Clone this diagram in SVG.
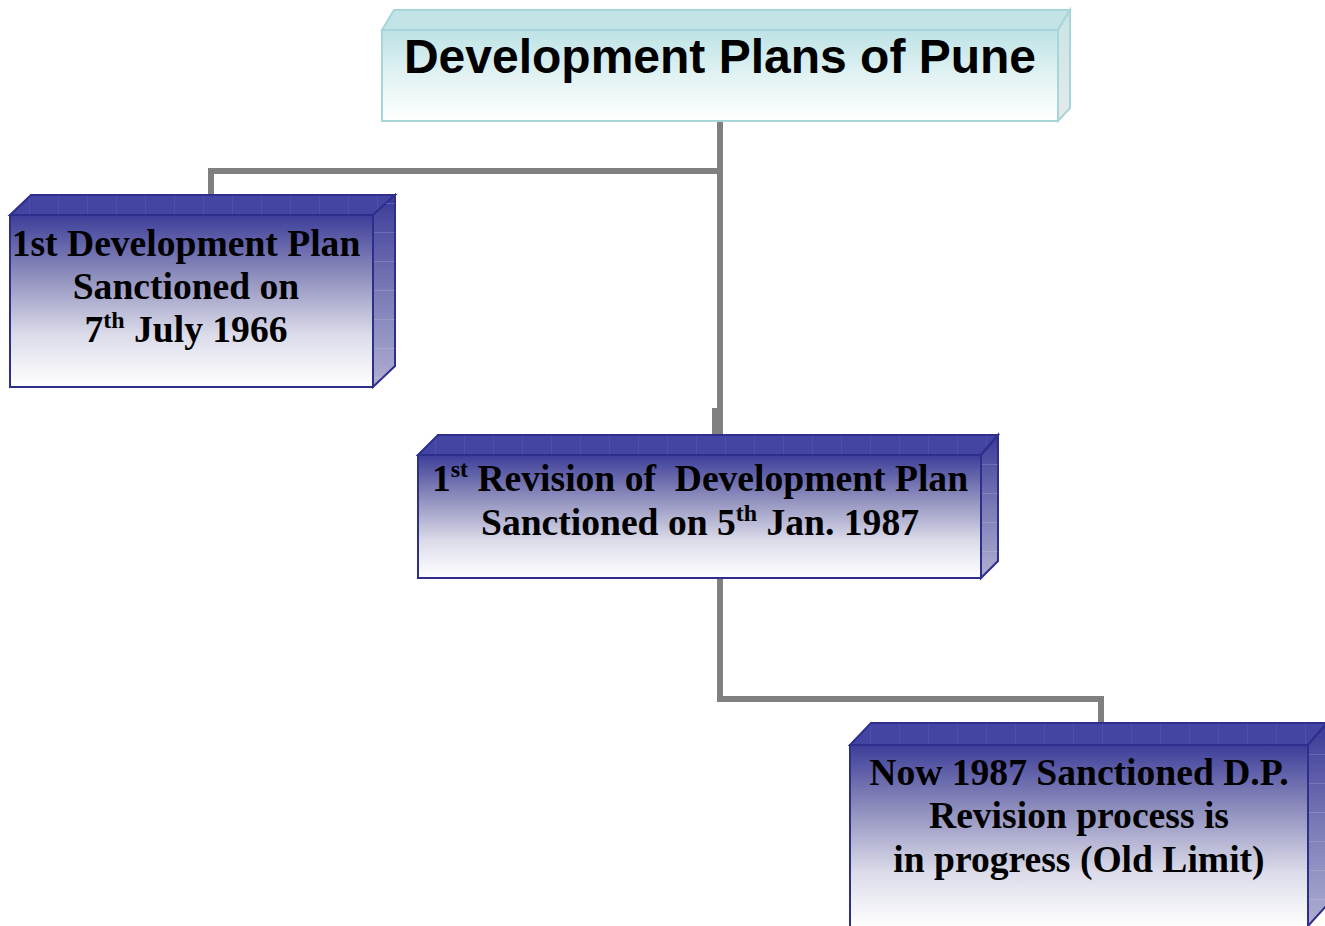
<svg xmlns="http://www.w3.org/2000/svg" width="1325" height="926" viewBox="0 0 1325 926">
  <defs>
    <!-- front face shading -->
    <linearGradient id="frontBlue" x1="0" y1="0" x2="0" y2="1">
      <stop offset="0" stop-color="#3d3d9a"/>
      <stop offset="0.35" stop-color="#8e8ebd"/>
      <stop offset="0.7" stop-color="#dcdcea"/>
      <stop offset="1" stop-color="#ffffff"/>
    </linearGradient>
    <linearGradient id="sideBlue" x1="0" y1="0" x2="0" y2="1">
      <stop offset="0" stop-color="#3a3a98"/>
      <stop offset="0.5" stop-color="#7a7ab6"/>
      <stop offset="1" stop-color="#afafd2"/>
    </linearGradient>
    <linearGradient id="frontTeal" x1="0" y1="0" x2="0" y2="1">
      <stop offset="0" stop-color="#bde2e5"/>
      <stop offset="0.5" stop-color="#e2f2f3"/>
      <stop offset="1" stop-color="#ffffff"/>
    </linearGradient>
    <linearGradient id="sideTeal" x1="0" y1="0" x2="0" y2="1">
      <stop offset="0" stop-color="#c9e3e5"/>
      <stop offset="1" stop-color="#e6eaea"/>
    </linearGradient>
    <!-- faint tile grid on the bevel faces -->
    <pattern id="gridV" width="29" height="40" patternUnits="userSpaceOnUse">
      <line x1="0.5" y1="0" x2="0.5" y2="40" stroke="#ffffff" stroke-opacity="0.06" stroke-width="1"/>
    </pattern>
    <pattern id="gridH" width="40" height="29" patternUnits="userSpaceOnUse">
      <line x1="0" y1="0.5" x2="40" y2="0.5" stroke="#ffffff" stroke-opacity="0.15" stroke-width="1"/>
    </pattern>
  </defs>
  <style>
    .edgeBlue { stroke: #2e2e8c; stroke-width: 2; stroke-linejoin: miter; }
    .edgeTeal { stroke: #a6d6da; stroke-width: 2; }
    .topBlue { fill: #4444a2; }
    .topTeal { fill: #c2e4e7; }
    .conn { fill: none; stroke: #808080; stroke-width: 6; stroke-linejoin: miter; stroke-linecap: butt; }
    .lbl { font-family: "Liberation Serif", "Times New Roman", serif; font-weight: bold; font-size: 37.6px; fill: #000; text-anchor: middle; white-space: pre; }
    .title { font-family: "Liberation Sans", Arial, sans-serif; font-weight: bold; font-size: 48px; fill: #000; text-anchor: middle; }
  </style>

  <rect width="1325" height="926" fill="#ffffff"/>

  <!-- connectors -->
  <g id="connectors">
    <path class="conn" d="M720 121 V435"/>
    <path class="conn" d="M720 171 H211 V196"/>
    <path class="conn" d="M715 408 V435"/>
    <path class="conn" d="M720 579 V699 H1101 V724"/>
  </g>

  <!-- root -->
  <g id="node-root">
    <polygon class="topTeal edgeTeal" points="382,30 394,10 1070,10 1058,30"/>
    <polygon fill="url(#sideTeal)" class="edgeTeal" points="1058,30 1070,10 1070,108 1058,121"/>
    <rect x="382" y="30" width="676" height="91" fill="url(#frontTeal)" class="edgeTeal"/>
    <text class="title" x="720" y="73">Development Plans of Pune</text>
  </g>

  <!-- first plan -->
  <g id="node-1966">
    <polygon class="topBlue edgeBlue" points="10,215 31,195 395,195 373,215"/>
    <polygon fill="url(#gridV)" points="10,215 31,195 395,195 373,215"/>
    <polygon fill="url(#sideBlue)" class="edgeBlue" points="373,215 395,195 395,366 373,387"/>
    <polygon fill="url(#gridH)" points="373,215 395,195 395,366 373,387"/>
    <rect x="10" y="215" width="363" height="172" fill="url(#frontBlue)" class="edgeBlue"/>
    <text class="lbl" x="186" y="256">1st Development Plan</text>
    <text class="lbl" x="186" y="299">Sanctioned on</text>
    <text class="lbl" x="186" y="342">7<tspan font-size="24" dy="-14">th</tspan><tspan dy="14"> July 1966</tspan></text>
  </g>

  <!-- first revision -->
  <g id="node-1987">
    <polygon class="topBlue edgeBlue" points="418,455 438,435 998,435 981,455"/>
    <polygon fill="url(#gridV)" points="418,455 438,435 998,435 981,455"/>
    <polygon fill="url(#sideBlue)" class="edgeBlue" points="981,455 998,435 998,561 981,578"/>
    <polygon fill="url(#gridH)" points="981,455 998,435 998,561 981,578"/>
    <rect x="418" y="455" width="563" height="123" fill="url(#frontBlue)" class="edgeBlue"/>
    <text class="lbl" x="700" y="491">1<tspan font-size="24" dy="-14">st</tspan><tspan dy="14"> Revision of  Development Plan</tspan></text>
    <text class="lbl" x="700" y="535">Sanctioned on 5<tspan font-size="24" dy="-14">th</tspan><tspan dy="14"> Jan. 1987</tspan></text>
  </g>

  <!-- current revision -->
  <g id="node-current">
    <polygon class="topBlue edgeBlue" points="850,745 871,723 1327,723 1308,745"/>
    <polygon fill="url(#gridV)" points="850,745 871,723 1327,723 1308,745"/>
    <polygon fill="url(#sideBlue)" class="edgeBlue" points="1308,745 1327,723 1327,905 1308,926"/>
    <polygon fill="url(#gridH)" points="1308,745 1327,723 1327,905 1308,926"/>
    <rect x="850" y="745" width="458" height="183" fill="url(#frontBlue)" class="edgeBlue"/>
    <text class="lbl" x="1079" y="785">Now 1987 Sanctioned D.P.</text>
    <text class="lbl" x="1079" y="828">Revision process is</text>
    <text class="lbl" x="1079" y="872">in progress (Old Limit)</text>
  </g>
</svg>
